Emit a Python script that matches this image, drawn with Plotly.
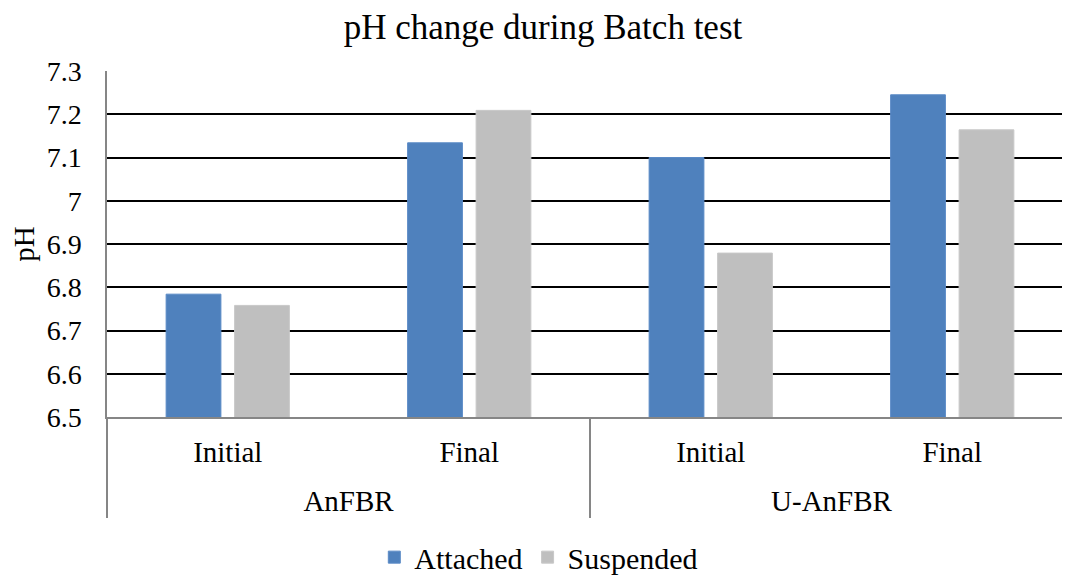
import plotly.graph_objects as go

reactors = ["AnFBR", "AnFBR", "U-AnFBR", "U-AnFBR"]
stages = ["Initial", "Final", "Initial", "Final"]
attached = [6.784, 7.134, 7.10, 7.245]
suspended = [6.758, 7.209, 6.879, 7.164]
y_ticks = [6.5, 6.6, 6.7, 6.8, 6.9, 7.0, 7.1, 7.2, 7.3]
y_ticktext = ["6.5", "6.6", "6.7", "6.8", "6.9", "7", "7.1", "7.2", "7.3"]

FONT = "Liberation Serif"

# small raised blank line under the inner labels to give the outer row more room
stage_labels = [s + "<br><sup>\u00a0</sup>" for s in stages]

fig = go.Figure()
fig.add_trace(go.Bar(name="Attached", x=[reactors, stage_labels], y=attached,
                     marker=dict(color="#4F81BD", line=dict(color="#5A8AC6", width=1))))
fig.add_trace(go.Bar(name="Suspended", x=[reactors, stage_labels], y=suspended,
                     marker=dict(color="#BFBFBF", line=dict(color="#C8C8C8", width=1))))

fig.update_layout(
    width=1070, height=577,
    paper_bgcolor="white", plot_bgcolor="white",
    font=dict(family=FONT, size=29, color="black"),
    title=dict(text="pH change during Batch test", x=0.5, xanchor="center",
               y=0.967, yanchor="middle", font=dict(family=FONT, size=35, color="black")),
    margin=dict(l=99, r=5, t=63, b=168, autoexpand=False),
    barmode="group", bargap=0.433, bargroupgap=0.2,
    showlegend=True,
    legend=dict(orientation="h", x=0.447, xanchor="center",
                y=-0.405, yanchor="middle",
                font=dict(family=FONT, size=30, color="black"), itemwidth=30,
                traceorder="normal"),
    xaxis=dict(type="multicategory", showline=True, linecolor="#868686", linewidth=1.5,
               showdividers=True, dividercolor="#868686", dividerwidth=1.5,
               tickfont=dict(family=FONT, size=29, color="black"), showgrid=False,
               ticks="", ticklabelstandoff=8, tickangle=0, range=[-0.5, 3.5]),
    yaxis=dict(range=[6.5, 7.3], tickvals=y_ticks, ticktext=y_ticktext,
               showgrid=True, gridcolor="black", gridwidth=1.5,
               showline=True, linecolor="#868686", linewidth=1.5,
               ticks="", ticklabelstandoff=18, zeroline=False,
               tickfont=dict(family=FONT, size=28, color="black"),
               title=dict(text="pH", font=dict(family=FONT, size=29, color="black"), standoff=4)),
)

fig.write_html("out.html")
